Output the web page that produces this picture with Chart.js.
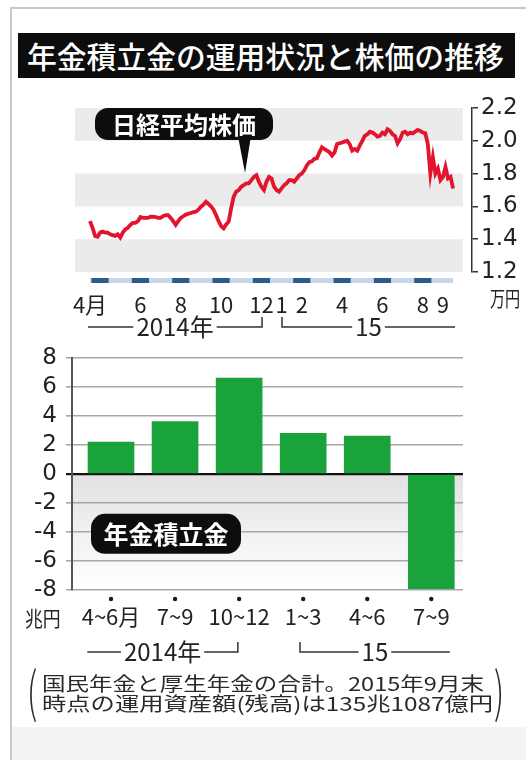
<!DOCTYPE html>
<html lang="ja">
<head>
<meta charset="utf-8">
<title>年金積立金の運用状況と株価の推移</title>
<script src="https://cdn.jsdelivr.net/npm/chart.js@4.4.1/dist/chart.umd.min.js"></script>
<style>
  body { margin: 0; width: 526px; height: 760px; position: relative; overflow: hidden; background: #fff;
         font-family: "Noto Sans CJK JP", "Noto Sans", sans-serif; }
  #waku { position: absolute; left: 10px; top: 7px; right: 0; bottom: 0;
          border-left: 2px solid #c9c9c9; border-top: 2px solid #c9c9c9; }
  #shita { position: absolute; left: 12px; top: 727px; right: 0; bottom: 0; background: #f3f3f3; }
  #midashi { position: absolute; left: 18px; top: 33px; width: 497px; height: 45px; background: #0d0d0d;
             color: #fff; font-size: 29.8px; font-weight: 500; line-height: 45px; padding-left: 9px;
             box-sizing: border-box; white-space: nowrap; }
  .hako { position: absolute; left: 0; width: 526px; }
  .gyo { position: absolute; left: 42px; font-size: 19px; line-height: 22px; color: #2a2a2a;
         white-space: nowrap; display: inline-block; transform-origin: left center; }
  .kakko { position: absolute; top: 654px; font-size: 54px; line-height: 70px; font-weight: 300; color: #2a2a2a;
           display: inline-block; transform: scaleX(0.6); transform-origin: left center; }
</style>
</head>
<body>
<div id="waku"></div>
<div id="shita"></div>
<div id="midashi">年金積立金の運用状況と株価の推移</div>

<div class="hako" style="top:90px;height:250px"><canvas id="kabukaChart"></canvas></div>
<div class="hako" style="top:335px;height:335px"><canvas id="tsumitateChart"></canvas></div>

<span class="kakko" style="left:27px">(</span>
<div class="gyo" id="gyo1" style="top:672px">国民年金と厚生年金の合計。2015年9月末</div>
<div class="gyo" id="gyo2" style="top:692px">時点の運用資産額(残高)は135兆1087億円</div>
<span class="kakko" style="left:494px">)</span>

<script>
// 日経平均株価(万円) 2014年4月〜2015年9月、1か月を8つに区切って図から読み取り
const kabuka = [
    1.51, 1.47, 1.42, 1.415, 1.44, 1.446, 1.44, 1.44,   // 2014/4
    1.43, 1.425, 1.42, 1.43, 1.41, 1.44, 1.46, 1.47,    // 5
    1.487, 1.50, 1.50, 1.51, 1.535, 1.53, 1.53, 1.53,   // 6
    1.537, 1.537, 1.535, 1.53, 1.53, 1.54, 1.547, 1.547, // 7
    1.53, 1.51, 1.487, 1.51, 1.53, 1.54, 1.55, 1.555,   // 8
    1.56, 1.565, 1.568, 1.58, 1.598, 1.61, 1.629, 1.615, // 9
    1.60, 1.58, 1.547, 1.51, 1.48, 1.466, 1.49, 1.507,  // 10
    1.59, 1.66, 1.69, 1.70, 1.72, 1.73, 1.74, 1.74,     // 11
    1.76, 1.78, 1.79, 1.75, 1.72, 1.70, 1.75, 1.78,     // 12
    1.77, 1.72, 1.70, 1.69, 1.71, 1.73, 1.74, 1.76,     // 2015/1
    1.76, 1.75, 1.77, 1.79, 1.80, 1.82, 1.85, 1.87,     // 2
    1.875, 1.89, 1.893, 1.93, 1.96, 1.95, 1.94, 1.93,   // 3
    1.91, 1.93, 1.98, 1.985, 1.99, 1.995, 2.00, 1.98,   // 4
    1.94, 1.95, 1.94, 1.97, 2.00, 2.03, 2.04, 2.055,    // 5
    2.05, 2.04, 2.025, 2.03, 2.05, 2.04, 2.07, 2.06,    // 6
    2.04, 2.03, 1.985, 2.01, 2.05, 2.056, 2.04, 2.05,   // 7
    2.045, 2.056, 2.066, 2.06, 2.05, 2.046, 1.98, 1.80, // 8
    1.90, 1.80, 1.83, 1.76, 1.78, 1.84, 1.77, 1.78,     // 9
    1.71
];
const tsukiIchi = [0, 2.5, 4.5, 6.5, 8.5, 9.5, 10.5, 12.5, 14.5, 16.5, 17.5];
const tsukiLabels = ["4月", "6", "8", "10", "12", "1", "2", "4", "6", "8", "9"];
const nenLabels = ["2014年", "15"];

// 年金積立金の運用損益(兆円)
const kikan = ["4~6月", "7~9", "10~12", "1~3", "4~6", "7~9"];
const unyouSoneki = [2.2, 3.6, 6.6, 2.8, 2.6, -7.9];

const FONT = '"Noto Sans CJK JP", "Noto Sans", sans-serif';
Chart.defaults.font.family = FONT;
Chart.defaults.color = "#222";

function nenKakko(ctx, x1, x2, y, label, hashi) {
    // 年の区切り線 ——2014年——┘ / └——15——
    ctx.save();
    ctx.font = "24px " + FONT;
    ctx.fillStyle = "#222";
    ctx.textAlign = "center";
    ctx.textBaseline = "middle";
    const mid = (x1 + x2) / 2;
    const w = ctx.measureText(label).width;
    ctx.fillText(label, mid, y);
    ctx.strokeStyle = "#333";
    ctx.lineWidth = 1.5;
    ctx.beginPath();
    if (hashi === "right") {
        ctx.moveTo(x1, y); ctx.lineTo(mid - w / 2 - 3, y);
        ctx.moveTo(mid + w / 2 + 3, y); ctx.lineTo(x2, y); ctx.lineTo(x2, y - 10);
    } else {
        ctx.moveTo(x1, y - 10); ctx.lineTo(x1, y); ctx.lineTo(mid - w / 2 - 3, y);
        ctx.moveTo(mid + w / 2 + 3, y); ctx.lineTo(x2, y);
    }
    ctx.stroke();
    ctx.restore();
}

function kuroHako(ctx, x, y, w, h, r, text, size) {
    ctx.save();
    ctx.fillStyle = "#0d0d0d";
    ctx.beginPath();
    ctx.roundRect(x, y, w, h, r);
    ctx.fill();
    ctx.fillStyle = "#fff";
    ctx.font = "bold " + size + "px " + FONT;
    ctx.textAlign = "center";
    ctx.textBaseline = "middle";
    ctx.fillText(text, x + w / 2, y + h / 2 + 1);
    ctx.restore();
}

const kabukaDeco = {
    id: "kabukaDeco",
    beforeDraw(chart) {
        const { ctx, chartArea, scales } = chart;
        const ys = scales.y;
        const vals = ys.ticks.map((t) => t.value).sort((a, b) => a - b);
        ctx.save();
        ctx.fillStyle = "#ebebeb";
        for (let i = 0; i < vals.length - 1; i += 2) {
            const top = ys.getPixelForValue(vals[i + 1]);
            const bot = ys.getPixelForValue(vals[i]);
            ctx.fillRect(chartArea.left, top, chartArea.right - 9 - chartArea.left, bot - top);
        }
        ctx.restore();
    },
    afterDraw(chart) {
        const { ctx, chartArea, scales } = chart;
        const xs = scales.x;
        // 月の帯
        const y0 = chartArea.bottom + 6;
        ctx.save();
        ctx.fillStyle = "#c6d7ea";
        ctx.fillRect(xs.getPixelForValue(0), y0, xs.getPixelForValue(18) - xs.getPixelForValue(0), 5);
        ctx.fillStyle = "#2c5b8e";
        for (let m = 0; m < 18; m += 2) {
            const a = xs.getPixelForValue(m) + 1.5;
            const b = xs.getPixelForValue(m + 1) - 1.5;
            ctx.fillRect(a, y0, b - a, 5);
        }
        // 単位
        ctx.fillStyle = "#222";
        ctx.font = "21px " + FONT;
        ctx.textBaseline = "middle";
        ctx.translate(490, chartArea.bottom + 26);
        ctx.scale(0.72, 1);
        ctx.fillText("万円", 0, 0);
        ctx.restore();

        const yb = chartArea.bottom + 55;
        nenKakko(ctx, xs.getPixelForValue(-0.1), xs.getPixelForValue(8.53), yb, nenLabels[0], "right");
        nenKakko(ctx, xs.getPixelForValue(9.52), xs.getPixelForValue(18.1), yb, nenLabels[1], "left");

        // 吹き出し
        ctx.save();
        ctx.fillStyle = "#0d0d0d";
        ctx.beginPath();
        ctx.moveTo(238, 46);
        ctx.lineTo(251, 46);
        ctx.lineTo(245, 83);
        ctx.closePath();
        ctx.fill();
        ctx.restore();
        kuroHako(ctx, 95, 18, 178, 32, 13, "日経平均株価", 24);
    }
};

const kabukaPts = kabuka.map((v, i) => ({ x: i / 8, y: v }));

new Chart(document.getElementById("kabukaChart"), {
    type: "line",
    data: {
        datasets: [
            { data: kabukaPts, borderColor: "#e3142d", borderWidth: 3.8, pointRadius: 0, tension: 0 },
            { data: kabukaPts, borderColor: "#2e0409", borderWidth: 1.7, pointRadius: 0, tension: 0 }
        ]
    },
    options: {
        responsive: true,
        maintainAspectRatio: false,
        animation: false,
        layout: { padding: { left: 75, top: 18, right: 0, bottom: 0 } },
        plugins: { legend: { display: false }, tooltip: { enabled: false } },
        scales: {
            x: {
                type: "linear",
                min: -0.744,
                max: 18.94,
                grid: { display: false },
                border: { display: false },
                afterFit: (s) => { s.height = 68; },
                afterBuildTicks: (s) => { s.ticks = tsukiIchi.map((v) => ({ value: v })); },
                ticks: {
                    autoSkip: false,
                    maxRotation: 0,
                    padding: 11,
                    font: { size: 22 },
                    callback: (v, i) => tsukiLabels[i]
                }
            },
            y: {
                position: "right",
                min: 1.2,
                max: 2.2,
                afterFit: (s) => { s.width = 54; },
                grid: { drawOnChartArea: false, drawTicks: true, tickLength: 6, color: "#333", lineWidth: 1.5 },
                border: { display: true, color: "#333", width: 1.5 },
                ticks: {
                    stepSize: 0.2,
                    autoSkip: false,
                    padding: 3,
                    font: { family: "DejaVu Sans", size: 23 },
                    callback: (v) => v.toFixed(1)
                }
            }
        }
    },
    plugins: [kabukaDeco]
});

const tsumitateDeco = {
    id: "tsumitateDeco",
    beforeDraw(chart) {
        const { ctx, chartArea, scales } = chart;
        const y0 = scales.y.getPixelForValue(0);
        const y1 = scales.y.getPixelForValue(-8);
        const g = ctx.createLinearGradient(0, y0, 0, y1);
        g.addColorStop(0, "#e2e2e2");
        g.addColorStop(1, "#ffffff");
        ctx.save();
        ctx.fillStyle = g;
        ctx.fillRect(chartArea.left, y0, chartArea.right - chartArea.left, y1 - y0);
        ctx.restore();
    },
    afterDraw(chart) {
        const { ctx, chartArea, scales } = chart;
        const xs = scales.x;
        ctx.save();
        ctx.fillStyle = "#1a1a1a";
        kikan.forEach((_, i) => {
            ctx.beginPath();
            ctx.arc(xs.getPixelForValue(i), chartArea.bottom + 9, 2.2, 0, Math.PI * 2);
            ctx.fill();
        });
        ctx.fillStyle = "#222";
        ctx.font = "21px " + FONT;
        ctx.textBaseline = "middle";
        ctx.translate(25, chartArea.bottom + 28);
        ctx.scale(0.85, 1);
        ctx.fillText("兆円", 0, 0);
        ctx.restore();

        const yb = chartArea.bottom + 62;
        nenKakko(ctx, xs.getPixelForValue(-0.37), xs.getPixelForValue(1.98), yb, nenLabels[0], "right");
        nenKakko(ctx, xs.getPixelForValue(2.95), xs.getPixelForValue(5.29), yb, nenLabels[1], "left");

        kuroHako(ctx, 91, chartArea.top + 156, 150, 40, 14, "年金積立金", 25);
    }
};

new Chart(document.getElementById("tsumitateChart"), {
    type: "bar",
    data: {
        datasets: [{
            data: unyouSoneki.map((v, i) => ({ x: i, y: v })),
            backgroundColor: "#1ba33b",
            barThickness: 46,
            borderWidth: 0
        }]
    },
    options: {
        responsive: true,
        maintainAspectRatio: false,
        animation: false,
        layout: { padding: { left: 0, top: 17, right: 63, bottom: 0 } },
        plugins: { legend: { display: false }, tooltip: { enabled: false } },
        scales: {
            x: {
                type: "linear",
                min: -0.609,
                max: 5.495,
                offset: false,
                grid: { display: false },
                border: { display: false },
                afterFit: (s) => { s.height = 80; },
                afterBuildTicks: (s) => { s.ticks = kikan.map((_, i) => ({ value: i })); },
                ticks: {
                    autoSkip: false,
                    maxRotation: 0,
                    padding: 5,
                    font: { size: 22 },
                    callback: (v, i) => kikan[i]
                }
            },
            y: {
                min: -8,
                max: 8,
                afterFit: (s) => { s.width = 72; },
                grid: {
                    color: (c) => (c.tick && c.tick.value === 0 ? "#111" : "#a8a8a8"),
                    lineWidth: (c) => (c.tick && c.tick.value === 0 ? 2.2 : 1.6),
                    drawTicks: true,
                    tickLength: 6
                },
                border: { color: "#555", width: 2 },
                ticks: {
                    stepSize: 2,
                    autoSkip: false,
                    padding: 9,
                    font: { family: "DejaVu Sans", size: 23 }
                }
            }
        }
    },
    plugins: [tsumitateDeco]
});

// 注記の横幅を図に合わせる
[["gyo1", 442], ["gyo2", 451]].forEach(([id, haba]) => {
    const el = document.getElementById(id);
    const w = el.getBoundingClientRect().width;
    el.style.transform = "scaleX(" + (haba / w).toFixed(3) + ")";
});
</script>
</body>
</html>
